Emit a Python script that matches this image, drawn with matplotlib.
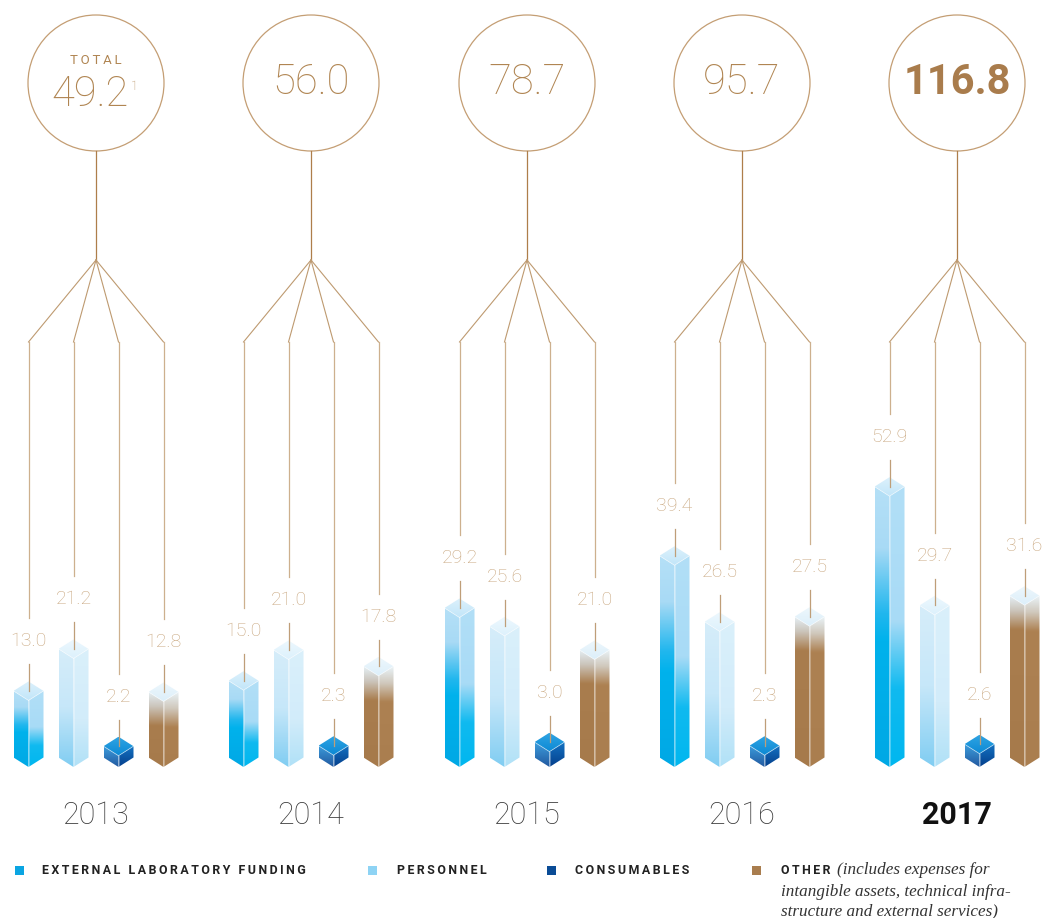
import numpy as np
import matplotlib
matplotlib.use('Agg')
import matplotlib.pyplot as plt
from matplotlib.patches import Polygon, Circle, Rectangle
from matplotlib.colors import LinearSegmentedColormap

# ---------------- data ----------------
years = ['2013', '2014', '2015', '2016', '2017']
totals = ['49.2', '56.0', '78.7', '95.7', '116.8']
external = [13.0, 15.0, 29.2, 39.4, 52.9]
personnel = [21.2, 21.0, 25.6, 26.5, 29.7]
consumables = [2.2, 2.3, 3.0, 2.3, 2.6]
other = [12.8, 17.8, 21.0, 27.5, 31.6]
categories = ['EXTERNAL LABORATORY FUNDING', 'PERSONNEL', 'CONSUMABLES', 'OTHER']
other_note = ['(includes expenses for', 'intangible assets, technical infra-',
              'structure and external services)']

# ---------------- layout ----------------
W, H = 1044, 918
K = 5.12          # pixels per value unit
BASE = 767        # pixel row of bar bottoms
GROUP_X = [96, 311, 527, 742, 957]
OFF = [-67.5, -22.5, 22.5, 67.5]
HW = 15           # half bar width (px)
ISO = 9.5         # isometric offset (px)
CIRC_Y, CIRC_R = 83, 68
JUNC_Y, FAN_Y = 260, 342

BROWN = '#B08552'
LABEL = '#C8A67E'
FONT = 'Roboto'

fig = plt.figure(figsize=(W / 100, H / 100), dpi=100)
fig.patch.set_facecolor('white')
axv = fig.add_axes([0, 0, 1, 1])
axv.set_xlim(0, W)
axv.set_ylim(-(H - BASE) / K, BASE / K)
axv.set_autoscale_on(False)
axv.axis('off')
axp = fig.add_axes([0, 0, 1, 1])
axp.set_xlim(0, W)
axp.set_ylim(H, 0)
axp.axis('off')
axp.patch.set_alpha(0)

D = ISO / K


def to_px(x, v):
    pt = axv.transData.transform((x, v))
    return axp.transData.inverted().transform(pt)


def cmap_from_top(stops):
    st = sorted([(1 - f, c) for f, c in stops])
    return LinearSegmentedColormap.from_list('g', st)


def grad_poly(poly, stops, y0, y1):
    poly = np.asarray(poly)
    cm = cmap_from_top(stops)
    img = np.linspace(0, 1, 512).reshape(-1, 1)
    im = axv.imshow(img, cmap=cm, origin='lower', aspect='auto',
                    extent=(poly[:, 0].min(), poly[:, 0].max(), y0, y1),
                    interpolation='bilinear', zorder=3)
    p = Polygon(poly, closed=True, facecolor='none', edgecolor='none',
                transform=axv.transData)
    axv.add_patch(p)
    im.set_clip_path(p)


def styles(kind, v):
    tot_px = (v + D) * K
    if kind == 0:
        left = [(0, '#B5E0F7'), (0.22, '#A8DAF5'), (0.45, '#22B7EE'),
                (0.55, '#00B2EC'), (1, '#00A8E5')]
        right = [(0, '#B2DFF7'), (0.48, '#A8DBF6'), (0.72, '#10BAF0'),
                 (1, '#00B7EF')]
        top = [(0, '#DDF1FC'), (1, '#C2E6F9')]
    elif kind == 1:
        left = [(0, '#D6EDFA'), (0.5, '#C6E7F9'), (1, '#80CDF2')]
        right = [(0, '#DAF0FB'), (0.6, '#D2ECFA'), (1, '#B0E1F7')]
        top = [(0, '#EDF8FE'), (1, '#DDF1FC')]
    elif kind == 2:
        left = [(0, '#3C9EDD'), (1, '#22589F')]
        right = [(0, '#1372C2'), (1, '#053F8C')]
        top = [(0, '#2FA4E3'), (1, '#0B88D4')]
    else:
        f = min(0.9, 34 / tot_px)
        left = [(0, '#E6F1F7'), (f * 0.45, '#CBC4BA'), (f, '#A97D4E'),
                (1, '#A67A4B')]
        right = [(0, '#EAF4F9'), (f * 0.5, '#D0C8BC'), (f * 1.05, '#AD8152'),
                 (1, '#AA7E4F')]
        top = [(0, '#EEF7FC'), (1, '#DCEFFA')]
    return left, right, top


def draw_bar(bx, v, kind):
    left, right, top = styles(kind, v)
    lp = [(bx - HW, D), (bx, 0), (bx, v), (bx - HW, v + D)]
    rp = [(bx, 0), (bx + HW, D), (bx + HW, v + D), (bx, v)]
    tp = [(bx, v), (bx - HW, v + D), (bx, v + 2 * D), (bx + HW, v + D)]
    grad_poly(lp, left, 0, v + D)
    grad_poly(rp, right, 0, v + D)
    grad_poly(tp, top, v, v + 2 * D)
    axv.plot([bx, bx], [0, v], color='white', alpha=0.35, lw=0.6, zorder=4)
    axv.plot([bx - HW, bx, bx + HW], [v + D, v, v + D], color='white',
             alpha=0.55, lw=0.6, zorder=4)


series = [external, personnel, consumables, other]

for g, gx in enumerate(GROUP_X):
    # circle + trunk
    axp.add_patch(Circle((gx, CIRC_Y), CIRC_R, facecolor='none',
                         edgecolor='#C49E74', lw=0.9, zorder=5))
    axp.plot([gx, gx], [CIRC_Y + CIRC_R, JUNC_Y], color='#AE7E4A', lw=0.9,
             zorder=5)
    if g == 0:
        axp.text(gx, 60, '\u2009'.join('TOTAL'), ha='center',
                 va='center', fontsize=9.5, color=BROWN,
                 family=[FONT, 'DejaVu Sans'])
        axp.text(gx - 6, 95, totals[g], ha='center', va='center', fontsize=30,
                 color=BROWN, family=FONT, fontweight='light')
        axp.text(gx + 38, 86, '1', ha='center', va='center', fontsize=9,
                 color=BROWN, family=FONT, fontweight='light')
    elif g == 4:
        axp.text(gx, 83, totals[g], ha='center', va='center', fontsize=30,
                 color='#A97C4C', family=FONT, fontweight='bold')
    else:
        axp.text(gx, 83, totals[g], ha='center', va='center', fontsize=30,
                 color=BROWN, family=FONT, fontweight='light')

    for i, s in enumerate(series):
        v = s[g]
        bx = gx + OFF[i]
        draw_bar(bx, v, i)
        topv_px = to_px(bx, v + 2 * D)[1]
        face_px = to_px(bx, v + D)[1]
        ly = topv_px - 40
        axp.plot([gx, bx], [JUNC_Y, FAN_Y], color='#BE9A70', lw=0.8, zorder=5)
        axp.plot([bx, bx], [FAN_Y, ly - 23], color='#CDB08E', lw=0.9, zorder=5)
        axp.plot([bx, bx], [ly + 23, face_px], color='#BF9E78', lw=0.9,
                 zorder=5)
        axp.text(bx, ly, f'{v:.1f}', ha='center', va='center', fontsize=14,
                 color=LABEL, family=FONT, fontweight='light', zorder=6)

    axp.text(gx, 815, years[g], ha='center', va='center', fontsize=22,
             color='#111111' if g == 4 else '#3C3C3C', family=FONT,
             fontweight='bold' if g == 4 else 'light')

# ---------------- legend ----------------
leg_colors = ['#0AA5E2', '#8ED3F4', '#0A4C96', '#A97D4E']
leg_sq_x = [15, 368, 547, 752]
leg_tx_x = [42, 397, 575, 781]
for c, sx, tx, lab in zip(leg_colors, leg_sq_x, leg_tx_x, categories):
    axp.add_patch(Rectangle((sx, 866), 9, 9, facecolor=c, edgecolor='none'))
    spaced = '\u2009'.join(list(lab))
    axp.text(tx, 870.5, spaced, ha='left', va='center', fontsize=8.9,
             color='#222222', family=[FONT, 'DejaVu Sans'], fontweight='bold')

note_kw = dict(ha='left', va='center', fontsize=12.3, color='#333333',
               family='Liberation Serif', style='italic')
axp.text(837, 870, other_note[0], **note_kw)
axp.text(781, 892, other_note[1], **note_kw)
axp.text(781, 911, other_note[2], **note_kw)

fig.savefig('out.png', dpi=100, facecolor='white')
